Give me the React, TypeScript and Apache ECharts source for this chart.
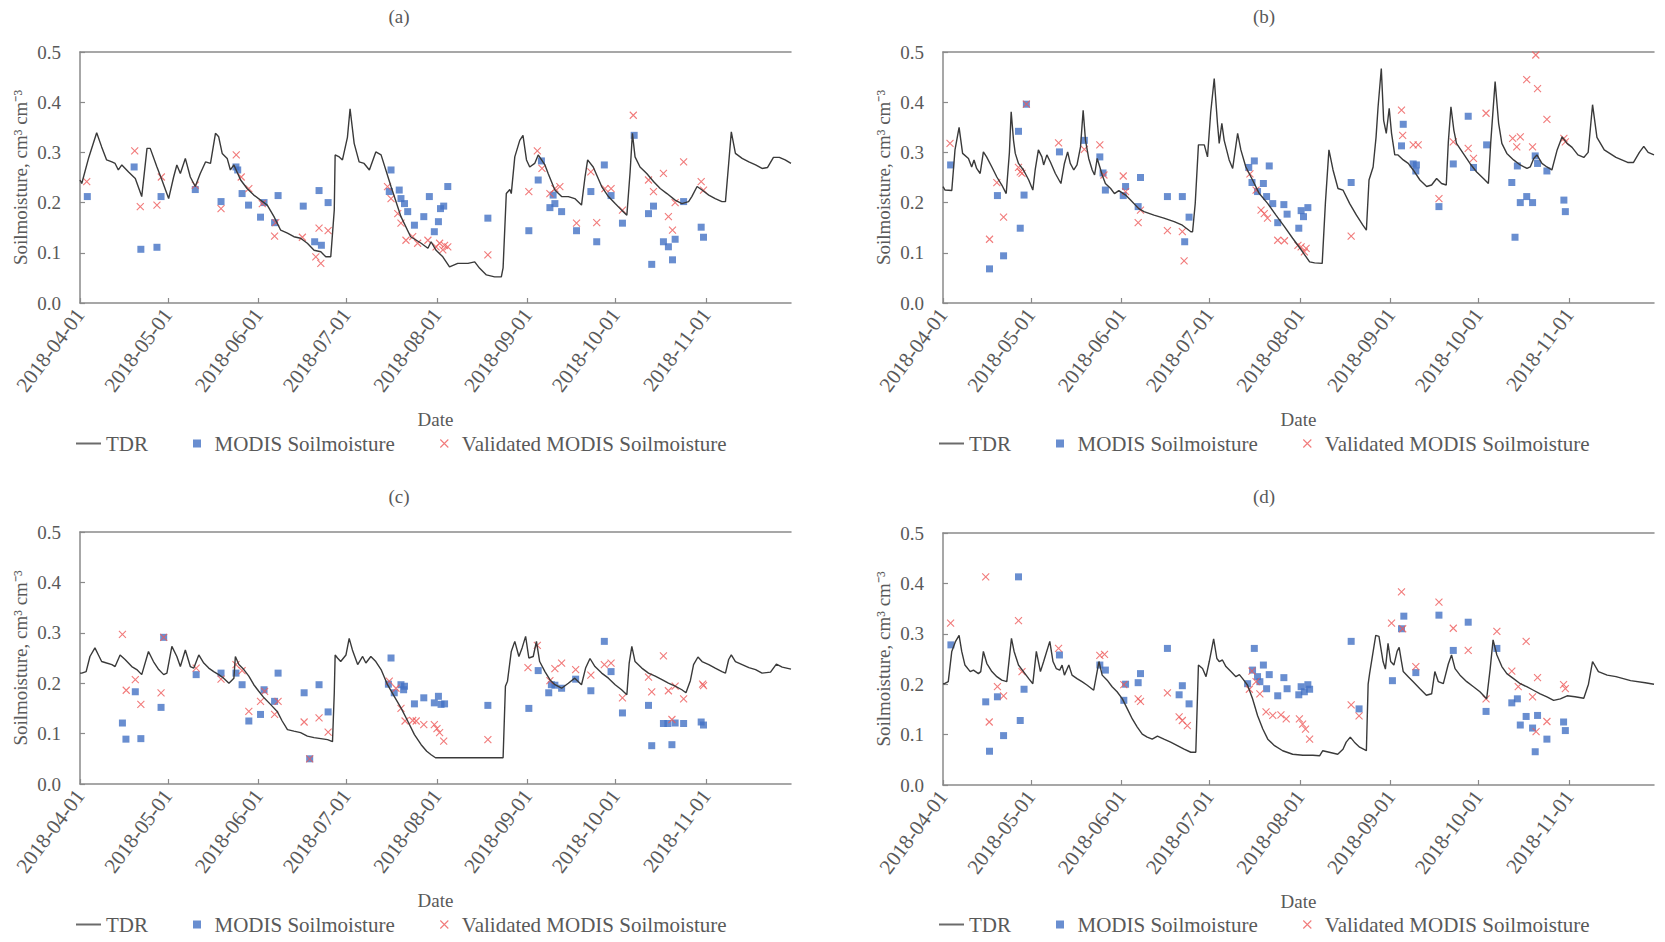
import React, { useEffect, useRef } from "react";
import * as echarts from "echarts";

// x values are days since 2018-04-01
const TICK_DAYS = [0, 30, 61, 91, 122, 153, 183, 214];
const TICK_LABELS = ["2018-04-01", "2018-05-01", "2018-06-01", "2018-07-01", "2018-08-01", "2018-09-01", "2018-10-01", "2018-11-01"];
const X_MAX = 243;
const PANEL_TITLES = ["(a)", "(b)", "(c)", "(d)"];
const SERIES_NAMES = ["TDR", "MODIS Soilmoisture", "Validated MODIS Soilmoisture"];
const Y_NAME = "Soilmoisture, cm³ cm⁻³";
const X_NAME = "Date";

const TDR_A = [[0,0.245],[0.6,0.238],[3,0.29],[5.7,0.339],[7.4,0.311],[9.1,0.285],[10.9,0.281],[12,0.278],[13.1,0.265],[14.3,0.275],[16.6,0.261],[18.9,0.248],[21.1,0.212],[22.9,0.308],[24,0.308],[26.3,0.271],[28,0.245],[30.3,0.208],[32,0.251],[33.1,0.275],[34.3,0.258],[36,0.288],[37.7,0.251],[39.4,0.232],[41.1,0.258],[42.9,0.281],[44.6,0.278],[46.3,0.338],[47.4,0.331],[48.6,0.298],[50.3,0.288],[51.4,0.265],[52.6,0.275],[54.9,0.245],[57.1,0.228],[59.4,0.215],[61.7,0.205],[64,0.195],[66.3,0.172],[68.6,0.145],[70.9,0.139],[73.1,0.132],[75.4,0.129],[77.7,0.119],[80,0.105],[82.3,0.102],[84,0.092],[85.7,0.092],[86.9,0.185],[87.2,0.295],[88.6,0.291],[89.7,0.285],[91.4,0.33],[92.3,0.387],[93.7,0.318],[95.4,0.281],[97.1,0.278],[98.9,0.265],[101.1,0.301],[102.9,0.295],[106.3,0.232],[109.7,0.172],[113,0.132],[116.6,0.119],[118.9,0.109],[120,0.122],[121.7,0.105],[124,0.092],[126.3,0.072],[129.1,0.079],[132.6,0.079],[134.9,0.082],[136.6,0.069],[138.9,0.056],[141.7,0.052],[144,0.052],[144.6,0.07],[145.7,0.218],[146.9,0.226],[147.4,0.218],[148.6,0.291],[150.3,0.324],[151.4,0.334],[152.6,0.285],[153.7,0.271],[155.4,0.278],[156.6,0.295],[158.9,0.275],[160,0.258],[162.3,0.225],[164.6,0.212],[166.9,0.212],[169.1,0.208],[171.4,0.195],[172.6,0.251],[173.5,0.285],[175.4,0.271],[178.3,0.232],[180.6,0.212],[182.9,0.198],[185.1,0.185],[186.9,0.175],[188,0.26],[188.8,0.338],[189.7,0.291],[191.4,0.271],[193.7,0.258],[196,0.242],[198.3,0.228],[200.6,0.218],[203.4,0.205],[205.7,0.198],[208,0.202],[209.1,0.212],[210.9,0.232],[212.6,0.225],[214.9,0.215],[217.1,0.208],[219.4,0.202],[220.6,0.202],[221.7,0.278],[222.6,0.341],[224,0.298],[226.3,0.288],[228.6,0.281],[230.9,0.275],[233.1,0.268],[235,0.27],[237,0.29],[239,0.29],[241,0.285],[243,0.278]];
const TDR_B = [[0,0.232],[0.7,0.225],[3,0.224],[4.1,0.305],[5.5,0.35],[6.7,0.298],[8.7,0.288],[9.8,0.271],[10.6,0.285],[11.5,0.268],[12.7,0.258],[13.8,0.301],[14.9,0.291],[16.7,0.271],[18.4,0.251],[20.1,0.235],[21.6,0.218],[22.7,0.3],[23.3,0.381],[24.1,0.324],[24.7,0.298],[25.8,0.278],[27.5,0.265],[29.3,0.245],[30.7,0.225],[31.5,0.265],[32.6,0.305],[33.8,0.291],[34.4,0.275],[35.5,0.295],[36.7,0.281],[38.4,0.258],[40.3,0.238],[41.5,0.278],[42.6,0.301],[43.5,0.278],[44.7,0.265],[45.8,0.275],[47,0.311],[47.9,0.384],[48.7,0.324],[49.8,0.288],[51,0.265],[51.8,0.255],[52.7,0.288],[53.6,0.271],[54.4,0.255],[55.5,0.238],[57.3,0.228],[58.6,0.218],[60.1,0.224],[62.4,0.215],[64.1,0.205],[66.9,0.188],[68.7,0.182],[72.1,0.175],[75.5,0.169],[79,0.162],[81.8,0.155],[84.7,0.142],[85.3,0.142],[86.2,0.198],[87.3,0.315],[89.3,0.315],[90.4,0.291],[91.5,0.38],[92.7,0.447],[93.8,0.358],[94.4,0.318],[95.3,0.358],[96.1,0.324],[97.8,0.285],[99,0.268],[100.7,0.338],[101.8,0.305],[103.5,0.271],[105.8,0.245],[108.1,0.218],[111,0.198],[113.8,0.175],[116.7,0.152],[119.5,0.129],[122.4,0.106],[125.3,0.082],[127,0.08],[129.6,0.079],[130.7,0.2],[131.9,0.305],[133.3,0.265],[135,0.228],[136.7,0.225],[139,0.198],[141.3,0.175],[143.5,0.155],[144.7,0.145],[145.6,0.245],[147,0.271],[148,0.33],[148.7,0.391],[149.8,0.467],[150.6,0.364],[151.5,0.338],[152.5,0.388],[153.3,0.338],[154.4,0.295],[155.5,0.295],[157.3,0.285],[159,0.278],[160.7,0.265],[163,0.245],[165.3,0.232],[167,0.235],[168.7,0.248],[170.4,0.238],[172,0.235],[172.7,0.32],[173.6,0.391],[174.6,0.344],[175.5,0.318],[177.8,0.298],[180.1,0.278],[182.4,0.261],[184.7,0.248],[186.4,0.238],[187.2,0.32],[188.7,0.441],[189.9,0.358],[191,0.318],[192.7,0.298],[195,0.285],[197.3,0.275],[199.6,0.268],[200.7,0.271],[201.9,0.288],[203,0.295],[204.7,0.278],[206.4,0.271],[208.1,0.265],[209.9,0.305],[211.6,0.331],[213.3,0.318],[215,0.31],[217,0.295],[219,0.29],[220.5,0.3],[222,0.395],[223.5,0.33],[226,0.305],[230,0.29],[234,0.28],[236,0.28],[238,0.3],[239.5,0.312],[241,0.3],[243,0.295]];
const TDR_C = [[0,0.22],[0.6,0.22],[2.1,0.223],[3.4,0.253],[5.1,0.27],[6.3,0.256],[7.4,0.243],[9.1,0.24],[10.9,0.237],[12,0.233],[13.7,0.256],[15.4,0.247],[17.7,0.233],[19.4,0.227],[21.1,0.217],[23.4,0.263],[25.1,0.243],[26.9,0.227],[28.6,0.217],[29.7,0.22],[31.4,0.273],[33.1,0.253],[34.3,0.233],[36,0.266],[37.7,0.233],[38.9,0.23],[40.6,0.256],[42.3,0.24],[44,0.23],[45.7,0.223],[47.4,0.217],[49.1,0.21],[50.9,0.2],[52.6,0.21],[53.1,0.253],[54.3,0.237],[56,0.227],[57.7,0.214],[59.4,0.197],[61.1,0.184],[62.9,0.171],[65.1,0.158],[67.4,0.144],[69.1,0.125],[70.9,0.108],[73.1,0.105],[75.4,0.102],[77.7,0.095],[80,0.092],[82.3,0.09],[84.6,0.088],[86.3,0.084],[86.9,0.18],[87.2,0.256],[88,0.25],[89.1,0.243],[90.9,0.256],[92,0.289],[93.1,0.266],[94.9,0.237],[96.6,0.253],[97.7,0.24],[99.4,0.253],[101.1,0.243],[102.9,0.227],[105.1,0.197],[107.4,0.174],[109.7,0.151],[112,0.125],[114.3,0.098],[116.6,0.078],[118.5,0.065],[120,0.058],[121.5,0.052],[144.6,0.052],[145.4,0.194],[146.1,0.204],[147.4,0.263],[148.6,0.283],[150,0.253],[151.1,0.27],[152.3,0.293],[153.4,0.25],[154.9,0.253],[156,0.283],[157.1,0.243],[158.9,0.223],[160.6,0.207],[162.3,0.197],[164.6,0.19],[166.9,0.2],[169.1,0.21],[171.4,0.197],[172.8,0.23],[174.3,0.249],[176,0.233],[178.3,0.22],[180.6,0.21],[182.9,0.197],[185.1,0.187],[186.9,0.177],[187.7,0.24],[188.6,0.273],[189.7,0.243],[192,0.23],[194.3,0.22],[196.6,0.214],[198.9,0.207],[201.1,0.2],[203.4,0.194],[205.7,0.187],[207.1,0.181],[208.6,0.205],[209.7,0.237],[211.2,0.252],[212.6,0.243],[214.9,0.237],[217.1,0.23],[219.4,0.223],[220.6,0.22],[221.7,0.247],[222.6,0.256],[224,0.243],[226.3,0.237],[228.6,0.231],[230.9,0.227],[233.1,0.22],[236,0.222],[238,0.238],[240,0.232],[243,0.228]];
const TDR_D = [[0,0.201],[0.5,0.201],[1.8,0.205],[3,0.265],[4.3,0.285],[5.5,0.297],[6.4,0.265],[7.5,0.238],[9.3,0.225],[10.4,0.228],[12.1,0.221],[12.9,0.225],[13.8,0.265],[15,0.241],[16.7,0.225],[18.4,0.215],[20.1,0.208],[21.8,0.205],[23.4,0.291],[24.3,0.265],[25.8,0.238],[27.5,0.225],[29.3,0.211],[30.7,0.201],[31.9,0.265],[33.3,0.225],[34.4,0.245],[36.5,0.285],[37.6,0.245],[38.7,0.231],[39.9,0.228],[40.7,0.238],[41.5,0.218],[43,0.238],[44.1,0.218],[45.8,0.211],[47.5,0.205],[49.3,0.198],[51.5,0.188],[53.3,0.245],[54.4,0.218],[56.1,0.208],[57.8,0.195],[59.5,0.185],[61.3,0.171],[63,0.151],[64.7,0.131],[66.4,0.115],[68.1,0.101],[69.8,0.095],[71.5,0.091],[73.3,0.097],[75.5,0.091],[77.8,0.085],[80.1,0.078],[82.4,0.071],[84.7,0.065],[86.4,0.065],[87.3,0.238],[88.7,0.231],[89.9,0.215],[91,0.245],[92.5,0.29],[93.6,0.251],[94.4,0.245],[95.5,0.248],[96.7,0.235],[98.4,0.225],[100.1,0.215],[101.3,0.219],[102.4,0.211],[104.1,0.198],[105.8,0.171],[107.5,0.138],[109.3,0.111],[111,0.091],[113.3,0.078],[116.1,0.068],[119.5,0.061],[123,0.059],[126.4,0.059],[128.7,0.058],[129.8,0.068],[132,0.065],[134.9,0.061],[136.7,0.071],[137.8,0.085],[139.2,0.095],[140.6,0.085],[142.4,0.075],[144.7,0.068],[145.3,0.2],[145.8,0.221],[147.9,0.297],[149,0.295],[150.4,0.245],[151.2,0.23],[152.1,0.281],[153,0.245],[154.1,0.238],[155.2,0.265],[155.9,0.273],[156.7,0.245],[157.3,0.225],[159,0.215],[160.7,0.205],[163,0.191],[165.2,0.178],[167,0.181],[168.1,0.225],[169.3,0.205],[171,0.201],[172.7,0.24],[173.8,0.258],[175,0.231],[176.7,0.218],[179,0.205],[181.3,0.195],[183.5,0.185],[185.8,0.171],[187,0.23],[188,0.288],[189.3,0.258],[191,0.235],[192.7,0.221],[195,0.211],[197.3,0.201],[199.5,0.195],[201.8,0.188],[204.1,0.181],[206.4,0.175],[208.7,0.168],[211,0.171],[213.3,0.177],[216,0.175],[219,0.172],[220.6,0.2],[222,0.245],[224,0.225],[227,0.218],[230,0.215],[235,0.207],[240,0.203],[243,0.2]];

const MODIS_A = [[2.5,0.212],[18.5,0.271],[20.8,0.107],[26.3,0.111],[27.7,0.212],[39.4,0.226],[48.2,0.202],[53.3,0.271],[53.9,0.265],[55.4,0.218],[57.6,0.195],[61.7,0.171],[62.9,0.2],[66.5,0.16],[67.7,0.214],[76.3,0.193],[80.2,0.122],[81.7,0.224],[82.5,0.115],[84.8,0.2],[105.7,0.222],[106.3,0.265],[109.1,0.225],[109.7,0.208],[110.9,0.198],[112,0.182],[114.3,0.155],[117.5,0.172],[119.4,0.212],[121.1,0.142],[122.5,0.162],[123.2,0.188],[124.3,0.193],[125.7,0.232],[139.4,0.169],[153.4,0.144],[156.6,0.245],[157.7,0.283],[160.6,0.19],[161.7,0.215],[162.3,0.198],[164.6,0.182],[169.7,0.144],[174.6,0.222],[176.6,0.122],[179.2,0.275],[181.5,0.214],[185.4,0.159],[189.4,0.334],[194.3,0.178],[195.4,0.077],[196,0.193],[199.4,0.122],[201.1,0.112],[202.5,0.086],[203.4,0.127],[206.3,0.202],[212.3,0.151],[213.1,0.131]];
const VALID_A = [[2.3,0.242],[18.7,0.303],[20.6,0.192],[26.3,0.195],[27.8,0.251],[39.4,0.235],[48.2,0.188],[53.4,0.295],[55.1,0.251],[57.7,0.228],[62.3,0.198],[66.9,0.16],[66.5,0.133],[76,0.131],[80.6,0.092],[81.7,0.149],[82.3,0.079],[84.8,0.144],[105.1,0.232],[106.3,0.208],[108.6,0.178],[109.7,0.159],[111.4,0.125],[113.7,0.132],[115.4,0.119],[118.9,0.125],[121.7,0.112],[122.9,0.119],[124,0.106],[124.6,0.115],[125.7,0.112],[139.4,0.096],[153.4,0.222],[156.3,0.303],[157.9,0.268],[160.6,0.218],[162.3,0.228],[164,0.232],[169.7,0.159],[174.6,0.261],[176.6,0.16],[179.4,0.228],[181.5,0.228],[185.4,0.185],[189.1,0.374],[194.3,0.245],[196,0.222],[199.4,0.258],[201.1,0.172],[202.5,0.145],[203.4,0.2],[206.3,0.281],[212.3,0.242],[213.1,0.225]];
const MODIS_B = [[2.6,0.275],[15.9,0.068],[18.6,0.214],[20.7,0.094],[25.8,0.342],[26.4,0.149],[27.7,0.215],[28.5,0.396],[39.8,0.301],[48.3,0.324],[53.6,0.291],[54.7,0.259],[55.5,0.225],[61.6,0.214],[62.4,0.232],[66.7,0.192],[67.5,0.25],[76.7,0.212],[81.8,0.212],[82.6,0.122],[84.1,0.171],[104.5,0.27],[105.6,0.24],[106.4,0.283],[107.5,0.222],[109.5,0.238],[110.6,0.212],[111.5,0.273],[112.7,0.198],[114.4,0.16],[116.5,0.196],[117.6,0.177],[121.6,0.149],[122.4,0.184],[123.2,0.172],[124.7,0.19],[139.5,0.24],[156.7,0.313],[157.3,0.356],[160.7,0.277],[161.6,0.263],[161.8,0.275],[169.5,0.192],[174.4,0.277],[179.5,0.372],[181.3,0.27],[185.8,0.315],[194.4,0.24],[195.5,0.131],[196.3,0.273],[197.3,0.2],[199.5,0.212],[201.5,0.2],[202.4,0.293],[203.2,0.278],[206.4,0.263],[212.2,0.205],[212.7,0.182]];
const VALID_B = [[2.4,0.318],[15.9,0.127],[18.4,0.24],[20.7,0.171],[25.8,0.27],[26.4,0.261],[27,0.258],[28.5,0.396],[39.5,0.319],[48.3,0.306],[53.6,0.315],[55,0.255],[61.6,0.253],[62.4,0.222],[66.7,0.16],[67.5,0.185],[76.7,0.144],[81.8,0.142],[82.4,0.084],[104.9,0.257],[107,0.225],[108.7,0.185],[109.8,0.178],[110.9,0.169],[114.4,0.125],[116.7,0.124],[121.3,0.115],[122.4,0.112],[123.5,0.102],[124.1,0.109],[139.5,0.133],[156.7,0.384],[157.1,0.334],[160.7,0.315],[162.4,0.315],[169.5,0.208],[174.4,0.321],[179.5,0.308],[181.3,0.288],[185.6,0.378],[194.7,0.328],[196.1,0.311],[197.3,0.331],[199.5,0.445],[201.5,0.311],[202.6,0.494],[203.2,0.427],[206.4,0.366],[212.2,0.328],[212.7,0.321]];
const MODIS_C = [[14.5,0.121],[15.7,0.089],[18.9,0.183],[20.8,0.09],[27.7,0.152],[28.6,0.291],[39.7,0.217],[48.2,0.22],[53.3,0.22],[55.4,0.197],[57.7,0.125],[61.7,0.138],[62.9,0.187],[66.5,0.164],[67.7,0.22],[76.6,0.181],[78.5,0.05],[81.7,0.197],[84.8,0.143],[105.4,0.198],[106.3,0.25],[107.4,0.181],[109.7,0.197],[110.6,0.187],[110.9,0.194],[114.3,0.159],[117.5,0.171],[121.1,0.161],[122.5,0.174],[123.4,0.158],[124.6,0.159],[139.4,0.156],[153.4,0.15],[156.6,0.225],[160.2,0.181],[161.1,0.197],[162.3,0.196],[164.6,0.19],[169.4,0.208],[174.6,0.185],[179.2,0.283],[181.5,0.223],[185.4,0.141],[194.3,0.156],[195.4,0.076],[199.4,0.12],[200.9,0.12],[202.3,0.078],[203.4,0.121],[206.3,0.12],[212.3,0.123],[213.1,0.117]];
const VALID_C = [[14.5,0.297],[15.8,0.186],[18.9,0.207],[20.8,0.158],[27.7,0.181],[28.6,0.291],[39.7,0.23],[48.2,0.208],[53.3,0.237],[55.4,0.225],[57.7,0.144],[61.7,0.164],[63.1,0.184],[66.5,0.138],[67.7,0.164],[76.6,0.123],[78.5,0.05],[81.7,0.131],[84.8,0.103],[105.7,0.204],[108,0.19],[109.7,0.15],[111.1,0.125],[113.7,0.126],[114.9,0.125],[117.5,0.118],[121.1,0.118],[122,0.11],[122.9,0.102],[124.3,0.085],[139.4,0.088],[153.1,0.231],[156.3,0.275],[160.6,0.205],[162.3,0.229],[164.6,0.24],[169.4,0.227],[174.6,0.216],[179.2,0.237],[181.5,0.24],[185.4,0.171],[194.3,0.212],[195.4,0.183],[199.4,0.254],[201.1,0.185],[202.3,0.128],[203.4,0.194],[206.3,0.169],[212.8,0.198],[213.1,0.195]];
const MODIS_D = [[2.7,0.278],[14.6,0.165],[15.9,0.067],[18.6,0.175],[20.7,0.098],[25.8,0.413],[26.4,0.128],[27.7,0.19],[39.8,0.258],[53.6,0.238],[55.5,0.228],[61.8,0.168],[62.4,0.2],[66.7,0.203],[67.5,0.221],[76.7,0.271],[80.7,0.179],[81.8,0.197],[84.1,0.161],[104.1,0.201],[105.8,0.228],[106.4,0.271],[107.5,0.215],[108.3,0.205],[109.5,0.238],[110.6,0.191],[111.5,0.219],[114.4,0.177],[116.5,0.213],[117.6,0.191],[121.6,0.179],[122.4,0.195],[123.5,0.185],[124.7,0.199],[125.3,0.19],[139.5,0.285],[142.2,0.151],[153.6,0.207],[156.7,0.31],[157.5,0.335],[161.6,0.223],[169.5,0.337],[174.4,0.267],[179.5,0.323],[185.6,0.146],[189.3,0.271],[194.4,0.163],[196.3,0.171],[197.3,0.119],[199.3,0.136],[201.5,0.113],[202.4,0.066],[203.2,0.138],[206.4,0.091],[212.1,0.125],[212.7,0.108]];
const VALID_D = [[2.6,0.321],[14.6,0.413],[15.8,0.125],[18.6,0.195],[20.7,0.177],[25.8,0.326],[27,0.225],[39.5,0.271],[53.6,0.257],[55.2,0.259],[61.8,0.199],[66.7,0.171],[67.5,0.166],[76.7,0.183],[80.7,0.135],[81.8,0.128],[83.5,0.118],[104.7,0.19],[105.6,0.226],[107,0.205],[108.3,0.181],[110.4,0.145],[112.7,0.138],[115.5,0.139],[117.3,0.131],[121.8,0.131],[122.9,0.121],[123.9,0.111],[125.3,0.091],[139.5,0.159],[142.2,0.137],[153.3,0.321],[156.7,0.383],[157.1,0.31],[161.6,0.235],[169.5,0.363],[174.4,0.311],[179.5,0.267],[185.6,0.171],[189.3,0.305],[194.4,0.226],[196.6,0.195],[199.3,0.285],[201.5,0.175],[202.7,0.106],[203.2,0.213],[206.4,0.126],[212.1,0.199],[212.7,0.191]];

const PANEL_DATA = [
  { tdr: TDR_A, modis: MODIS_A, valid: VALID_A },
  { tdr: TDR_B, modis: MODIS_B, valid: VALID_B },
  { tdr: TDR_C, modis: MODIS_C, valid: VALID_C },
  { tdr: TDR_D, modis: MODIS_D, valid: VALID_D },
];

// layout (pixels)
const GRIDS = [
  { left: 80, top: 52, width: 711, height: 251 },
  { left: 943, top: 52, width: 711, height: 251 },
  { left: 80, top: 532, width: 711, height: 252 },
  { left: 943, top: 533, width: 711, height: 252 },
];
const TITLE_POS = [[399, 16], [1264, 16], [399, 496], [1264, 496]];
const LEGEND_POS = [[71, 428], [934, 428], [71, 909], [934, 909]];

const FONT = "'Liberation Serif', 'Times New Roman', serif";
const TEXT_COLOR = "#595959";
const AXIS_COLOR = "#8a8a8a";
const LINE_COLOR = "#3a3a3a";
const BLUE = "#4472C4";
const RED = "#EE5A5A";
const X_PATH = "path://M0,0L10,10M10,0L0,10";
const SQ_PATH = "path://M0,0H10V10H0Z";
const LINE_ICON = "path://M0,0H30V2.4H0Z";

export default function App() {
  const ref = useRef<HTMLDivElement>(null);
  useEffect(() => {
    if (!ref.current) return;
    const chart = echarts.init(ref.current, null, { renderer: "svg" });
    const xAxis: any[] = [];
    const yAxis: any[] = [];
    const series: any[] = [];
    const legend: any[] = [];
    const graphic: any[] = [];
    GRIDS.forEach((_, i) => {
      xAxis.push({
        type: "value", gridIndex: i, min: 0, max: X_MAX, position: "bottom",
        name: X_NAME, nameLocation: "middle", nameGap: 107,
        nameTextStyle: { fontFamily: FONT, fontSize: 19, color: TEXT_COLOR },
        axisLine: { show: true, lineStyle: { color: AXIS_COLOR, width: 1.5 } },
        axisTick: { show: true, inside: true, length: 5, customValues: TICK_DAYS, lineStyle: { color: AXIS_COLOR, width: 1.2 } },
        axisLabel: {
          customValues: TICK_DAYS, rotate: 53, margin: 8,
          fontFamily: FONT, fontSize: 21, color: TEXT_COLOR,
          formatter: (v: number) => { const k = TICK_DAYS.indexOf(Math.round(v)); return k >= 0 ? TICK_LABELS[k] : ""; },
        },
        splitLine: { show: false },
      });
      xAxis.push({
        type: "value", gridIndex: i, min: 0, max: X_MAX, position: "top",
        axisLine: { show: true, lineStyle: { color: AXIS_COLOR, width: 1.5 } },
        axisTick: { show: false }, axisLabel: { show: false }, splitLine: { show: false },
      });
      yAxis.push({
        type: "value", gridIndex: i, min: 0, max: 0.5, interval: 0.1,
        name: Y_NAME, nameLocation: "middle", nameGap: 50,
        nameTextStyle: { fontFamily: FONT, fontSize: 19, color: TEXT_COLOR },
        axisLine: { show: true, lineStyle: { color: AXIS_COLOR, width: 1.5 } },
        axisTick: { show: true, inside: true, length: 5, lineStyle: { color: AXIS_COLOR, width: 1.2 } },
        axisLabel: { fontFamily: FONT, fontSize: 19, color: TEXT_COLOR, margin: 19, formatter: (v: number) => v.toFixed(1) },
        splitLine: { show: false },
      });
      const d = PANEL_DATA[i];
      series.push({
        name: SERIES_NAMES[0], type: "line", xAxisIndex: 2 * i, yAxisIndex: i,
        data: d.tdr, symbol: "none", lineStyle: { color: LINE_COLOR, width: 1.4 }, itemStyle: { color: LINE_COLOR },
      });
      series.push({
        name: SERIES_NAMES[1], type: "scatter", xAxisIndex: 2 * i, yAxisIndex: i,
        data: d.modis, symbol: "rect", symbolSize: 7, itemStyle: { color: BLUE },
      });
      series.push({
        name: SERIES_NAMES[2], type: "scatter", xAxisIndex: 2 * i, yAxisIndex: i,
        data: d.valid, symbol: X_PATH, symbolSize: 7,
        itemStyle: { color: "rgba(0,0,0,0)", borderColor: RED, borderWidth: 1.1 },
      });
      legend.push({
        left: LEGEND_POS[i][0], top: LEGEND_POS[i][1], orient: "horizontal",
        itemWidth: 25, itemHeight: 8, itemGap: 45,
        textStyle: { fontFamily: FONT, fontSize: 21, color: TEXT_COLOR },
        data: [
          { name: SERIES_NAMES[0], icon: LINE_ICON, itemStyle: { color: "#6b6b6b" } },
          { name: SERIES_NAMES[1], icon: SQ_PATH, itemStyle: { color: BLUE } },
          { name: SERIES_NAMES[2], icon: X_PATH, itemStyle: { color: "rgba(0,0,0,0)", borderColor: RED, borderWidth: 1.1 } },
        ],
      });
      graphic.push({
        type: "text", x: TITLE_POS[i][0], y: TITLE_POS[i][1],
        style: { text: PANEL_TITLES[i], fontFamily: FONT, fontSize: 19, fill: TEXT_COLOR, align: "center", verticalAlign: "middle" },
      });
    });
    chart.setOption({
      animation: false,
      backgroundColor: "#ffffff",
      grid: GRIDS.map((g) => ({ ...g, containLabel: false })),
      xAxis, yAxis, series, legend, graphic,
    });
    return () => chart.dispose();
  }, []);
  return <div ref={ref} style={{ position: "absolute", left: 0, top: 0, width: 1665, height: 942 }} />;
}
